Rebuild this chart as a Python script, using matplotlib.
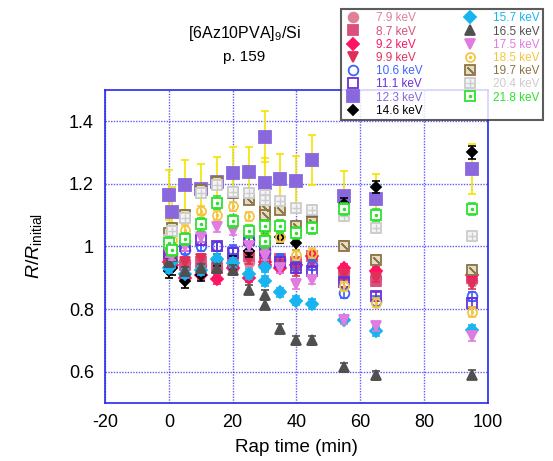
import numpy as np
import matplotlib.pyplot as plt
from matplotlib.lines import Line2D

plt.rcParams['font.family'] = ['Liberation Sans', 'DejaVu Sans']
plt.rcParams['mathtext.fontset'] = 'custom'
plt.rcParams['mathtext.rm'] = 'Liberation Sans'
plt.rcParams['mathtext.it'] = 'Liberation Sans:italic'
plt.rcParams['axes.unicode_minus'] = False

# tiempos (min) - dos medidas en 30 min
t = [0, 1, 5, 10, 15, 20, 25, 30, 30, 35, 40, 45, 55, 65, 95]

e79 = [0.98, 0.97, 0.95, 0.94, 0.93, 0.93, 0.95, 0.96, 0.94, 0.95, 0.95, 0.96, 0.92, 0.90, 0.89]
e87 = [0.96, 0.95, 0.94, 0.95, 0.93, 0.95, 0.97, 0.98, 0.96, 0.96, 0.95, 0.97, 0.91, 0.89, 0.90]
e92 = [0.95, 0.94, 0.90, 0.91, 0.895, 0.93, 0.90, 0.95, 0.94, 0.93, 0.94, 0.97, 0.93, 0.92, 0.91]
e99 = [0.97, 0.96, 0.95, 0.96, 0.94, 0.96, 0.96, 0.97, 0.95, 0.94, 0.92, 0.95, 0.91, 0.90, 0.88]
e106 = [0.99, 0.98, 0.99, 1.00, 1.00, 0.99, 1.02, 0.99, 0.98, 0.96, 0.94, 0.94, 0.85, 0.825, 0.84]
e111 = [0.98, 0.99, 1.00, 1.02, 1.00, 0.98, 1.02, 1.00, 0.99, 0.95, 0.93, 0.92, 0.885, 0.84, 0.82]
e123 = [1.165, 1.11, 1.195, 1.183, 1.205, 1.236, 1.239, 1.351, 1.202, 1.215, 1.21, 1.277, 1.16, 1.152, 1.247]
e146 = [0.92, 0.93, 0.888, 0.91, 0.957, 0.948, 0.985, 1.03, 1.01, 1.03, 1.01, 1.096, 1.136, 1.19, 1.30]
e157 = [0.93, 0.95, 0.913, 0.925, 0.96, 0.947, 0.912, 0.933, 0.89, 0.853, 0.827, 0.816, 0.766, 0.729, 0.734]
e165 = [0.95, 0.97, 0.92, 0.93, 0.93, 0.925, 0.862, 0.846, 0.814, 0.736, 0.70, 0.70, 0.614, 0.588, 0.59]
e175 = [0.98, 0.97, 1.00, 1.03, 1.062, 1.05, 1.00, 0.99, 0.97, 0.93, 0.88, 0.894, 0.766, 0.745, 0.713]
e185 = [1.00, 1.02, 1.053, 1.114, 1.10, 1.128, 1.096, 1.07, 1.05, 1.03, 0.973, 0.979, 0.872, 0.82, 0.79]
e197 = [1.043, 1.06, 1.10, 1.18, 1.207, 1.17, 1.149, 1.122, 1.10, 1.117, 1.066, 1.077, 1.002, 0.958, 0.926]
e204 = [1.02, 1.05, 1.09, 1.17, 1.197, 1.175, 1.17, 1.165, 1.148, 1.144, 1.122, 1.117, 1.096, 1.059, 1.032]
e218 = [1.01, 0.99, 1.024, 1.07, 1.14, 1.08, 1.048, 1.064, 1.016, 1.064, 1.043, 1.059, 1.12, 1.10, 1.12]

etiquetas = ['7.9 keV', '8.7 keV', '9.2 keV', '9.9 keV', '10.6 keV', '11.1 keV', '12.3 keV',
             '14.6 keV', '15.7 keV', '16.5 keV', '17.5 keV', '18.5 keV', '19.7 keV', '20.4 keV', '21.8 keV']
datos = [e79, e87, e92, e99, e106, e111, e123, e146, e157, e165, e175, e185, e197, e204, e218]
errores = [0.015, 0.015, 0.015, 0.015, 0.015, 0.015, 0.08, 0.02, 0.015, 0.015, 0.015, 0.015, 0.015, 0.015, 0.02]

# (marker, face, edge, errcolor, size, overlay)
estilos = [
    ('o', '#e08096', '#e08096', '#e08096', 7, None),
    ('s', '#d8507c', '#d8507c', '#d8507c', 7, None),
    ('D', '#ff1464', '#ff1464', '#ff1464', 6.5, None),
    ('v', '#e0305a', '#e0305a', '#e0305a', 7, None),
    ('o', 'none', '#3c64ff', '#3c64ff', 7, None),
    ('s', 'none', '#6a30d8', '#6a30d8', 7, None),
    ('s', '#8868dc', '#8868dc', '#f4e400', 8, None),
    ('D', 'black', 'black', 'black', 5.5, None),
    ('D', '#18b4f0', '#18b4f0', '#18b4f0', 6, None),
    ('^', '#505050', '#505050', '#505050', 7, None),
    ('v', '#e07ce0', '#e07ce0', '#e07ce0', 7, None),
    ('o', 'none', '#f4c640', '#f4c640', 6.5, ('.', '#f4c640', 3)),
    ('s', '#e4dcc4', '#8c7444', '#8c7444', 6.5, ((2, 2, 45), '#8c7444', 6)),
    ('s', '#f4f4f4', '#cccccc', '#cccccc', 6.5, ('+', '#cccccc', 6)),
    ('s', 'white', '#30e030', '#30e030', 6.5, ('.', '#30e030', 3)),
]

fig = plt.figure(figsize=(5.53, 4.61), dpi=100)
ax = fig.add_axes([0.19, 0.126, 0.692, 0.679])

azul = '#2828f0'
manejadores = []
for y, err, est in zip(datos, errores, estilos):
    m, fc, ec, errc, ms, extra = est
    ax.errorbar(t, y, yerr=err, fmt='none', ecolor=errc, elinewidth=1.2, capsize=3, capthick=1.2)
    ax.plot(t, y, linestyle='none', marker=m, markerfacecolor=fc, markeredgecolor=ec,
            markersize=ms, markeredgewidth=1.3)
    h = Line2D([], [], linestyle='none', marker=m, markerfacecolor=fc, markeredgecolor=ec,
               markersize=ms, markeredgewidth=1.3)
    if extra is not None:
        ax.plot(t, y, linestyle='none', marker=extra[0], color=extra[1], markersize=extra[2],
                markeredgewidth=1)
        h2 = Line2D([], [], linestyle='none', marker=extra[0], color=extra[1],
                    markersize=extra[2], markeredgewidth=1)
        h = (h, h2)
    manejadores.append(h)

ax.set_xlim(-20, 100)
ax.set_ylim(0.5, 1.5)
ax.set_xticks([-20, 0, 20, 40, 60, 80, 100])
ax.set_yticks([0.6, 0.8, 1.0, 1.2, 1.4])
ax.set_yticklabels(['0.6', '0.8', '1', '1.2', '1.4'])
ax.grid(True, color=azul, linestyle=(0, (1, 1)), linewidth=1, alpha=0.75)
ax.set_axisbelow(True)
for s in ax.spines.values():
    s.set_color(azul)
    s.set_linewidth(1.2)
ax.tick_params(direction='in', length=0, labelsize=13, pad=8, colors='black')

ax.set_xlabel('Rap time (min)', fontsize=13.5, labelpad=6)
ax.set_ylabel(r'$R/R_{\mathrm{initial}}$', fontsize=14, labelpad=18)

fig.text(244 / 553, 1 - 33 / 461, r'[6Az10PVA]$_{9}$/Si', ha='center', va='center', fontsize=11.5)
fig.text(244 / 553, 1 - 57 / 461, 'p. 159', ha='center', va='center', fontsize=11)

# leyenda en dos columnas (8 + 6)
vacio = Line2D([], [], linestyle='none')
hs = manejadores + [vacio]
ls = etiquetas + ['']
ley = fig.legend(hs, ls, loc='upper left',
                 bbox_to_anchor=(335 / 553, 1 - 3 / 461), ncol=2, fontsize=8.5,
                 frameon=True, fancybox=False, edgecolor='#333333', labelspacing=0.1,
                 handletextpad=1.2, columnspacing=3.2, borderpad=0.3, handlelength=1.5)
ley.get_frame().set_linewidth(1.5)
colores_texto = [e[2] for e in estilos]
for txt, c in zip(ley.get_texts(), colores_texto + ['white']):
    txt.set_color(c)

fig.savefig('out.png', dpi=100)
